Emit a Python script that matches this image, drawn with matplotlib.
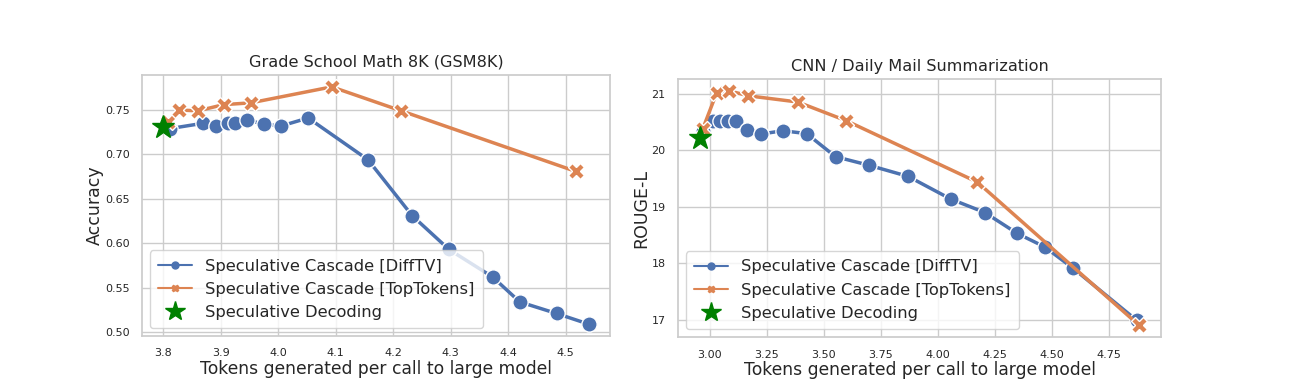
import matplotlib
matplotlib.use("Agg")
import matplotlib.pyplot as plt
import seaborn as sns
from matplotlib.lines import Line2D

sns.set_theme(style="whitegrid")
plt.rcParams['font.family'] = ['DejaVu Sans']

blue = "#4C72B0"
orange = "#DD8452"

# GSM8K
gsm_diff_x = [3.811, 3.869, 3.891, 3.912, 3.925, 3.945, 3.975, 4.005, 4.052,
              4.156, 4.233, 4.297, 4.373, 4.420, 4.484, 4.540]
gsm_diff_y = [0.729, 0.735, 0.732, 0.735, 0.735, 0.739, 0.734, 0.732, 0.741,
              0.694, 0.631, 0.593, 0.562, 0.534, 0.521, 0.509]
gsm_top_x = [3.808, 3.827, 3.860, 3.905, 3.952, 4.093, 4.214, 4.517]
gsm_top_y = [0.737, 0.750, 0.749, 0.756, 0.758, 0.776, 0.749, 0.681]
gsm_spec_x = [3.800]
gsm_spec_y = [0.731]

# CNN / Daily Mail
cnn_diff_x = [2.971, 3.015, 3.044, 3.077, 3.114, 3.164, 3.222, 3.319, 3.424,
              3.551, 3.696, 3.870, 4.056, 4.206, 4.348, 4.469, 4.594, 4.872]
cnn_diff_y = [20.35, 20.53, 20.53, 20.52, 20.52, 20.36, 20.29, 20.35, 20.30,
              19.89, 19.74, 19.54, 19.14, 18.90, 18.53, 18.29, 17.91, 16.99]
cnn_top_x = [2.968, 3.029, 3.083, 3.168, 3.385, 3.597, 4.173, 4.883]
cnn_top_y = [20.38, 21.02, 21.06, 20.97, 20.86, 20.53, 19.44, 16.90]
cnn_spec_x = [2.956]
cnn_spec_y = [20.22]

W, H = 1293, 390
fig = plt.figure(figsize=(W / 100, H / 100), dpi=100)
ax1 = fig.add_axes([142 / W, 1 - 336 / H, (610 - 142) / W, (336 - 75) / H])
ax2 = fig.add_axes([678 / W, 1 - 337 / H, (1161 - 678) / W, (337 - 79) / H])

panels = [
    (ax1, gsm_diff_x, gsm_diff_y, gsm_top_x, gsm_top_y, gsm_spec_x, gsm_spec_y,
     "Grade School Math 8K (GSM8K)", "Accuracy"),
    (ax2, cnn_diff_x, cnn_diff_y, cnn_top_x, cnn_top_y, cnn_spec_x, cnn_spec_y,
     "CNN / Daily Mail Summarization", "ROUGE-L"),
]

for ax, dx, dy, tx, ty, sx, sy, title, ylabel in panels:
    ax.plot(dx, dy, color=blue, lw=2.5, marker="o", markersize=11,
            markeredgecolor="white", markeredgewidth=1)
    ax.plot(tx, ty, color=orange, lw=2.5, marker="X", markersize=11,
            markeredgecolor="white", markeredgewidth=1)
    ax.plot(sx, sy, color="green", lw=0, marker="*", markersize=17)
    ax.set_title(title, fontsize=11.6)
    ax.set_xlabel("Tokens generated per call to large model", fontsize=12.3, labelpad=1)
    ax.set_ylabel(ylabel, fontsize=12.5, labelpad=1)
    ax.tick_params(labelsize=8, pad=3)
    handles = [
        Line2D([], [], color=blue, marker="o", markersize=5, lw=1.5),
        Line2D([], [], color=orange, marker="X", markersize=5, lw=1.5),
        Line2D([], [], color="green", marker="*", markersize=15, lw=0),
    ]
    ax.legend(handles, ["Speculative Cascade [DiffTV]",
                        "Speculative Cascade [TopTokens]",
                        "Speculative Decoding"],
              loc="lower left", fontsize=11.7, handlelength=2.1,
              labelspacing=0.5, borderpad=0.5)

ax1.set_xticks([3.8, 3.9, 4.0, 4.1, 4.2, 4.3, 4.4, 4.5])
ax1.set_yticks([0.50, 0.55, 0.60, 0.65, 0.70, 0.75])
ax2.set_xticks([3.00, 3.25, 3.50, 3.75, 4.00, 4.25, 4.50, 4.75])
ax2.set_yticks([17, 18, 19, 20, 21])

fig.savefig("out.png", dpi=100)
